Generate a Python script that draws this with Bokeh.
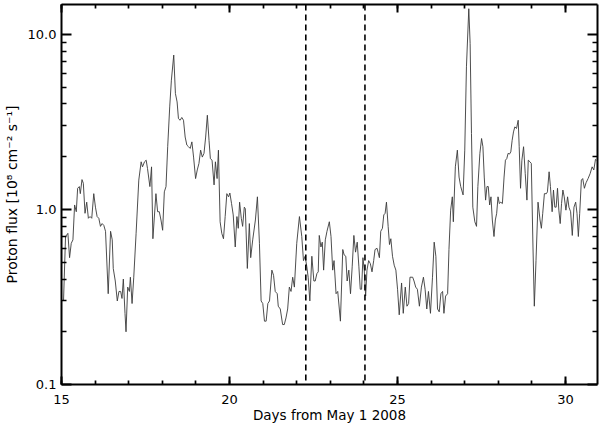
from bokeh.plotting import figure
from bokeh.models import (Range1d, LogAxis, LinearAxis, FixedTicker,
                          PrintfTickFormatter, Span, ColumnDataSource)
from bokeh.embed import file_html
from bokeh.resources import INLINE

# ---- data ----
days = [
    15.06, 15.12, 15.19, 15.24, 15.29, 15.34, 15.39, 15.44, 15.48, 15.53, 15.56, 15.61, 15.65,
    15.70, 15.75, 15.80, 15.85, 15.90, 15.96, 16.01, 16.06, 16.11, 16.16, 16.21, 16.26, 16.31,
    16.39, 16.46, 16.51, 16.54, 16.60, 16.66, 16.71, 16.76, 16.80, 16.84, 16.89, 16.92, 16.97,
    17.02, 17.05, 17.10, 17.15, 17.22, 17.30, 17.37, 17.41, 17.47, 17.52, 17.56, 17.63, 17.68,
    17.72, 17.81, 17.86, 17.91, 17.96, 18.01, 18.06, 18.11, 18.16,
    18.22, 18.27, 18.34, 18.39, 18.44, 18.48, 18.53, 18.58, 18.63, 18.68, 18.73, 18.78, 18.83,
    18.88, 18.93, 18.99, 19.04, 19.09, 19.14, 19.19, 19.24, 19.29, 19.34, 19.39, 19.43, 19.48,
    19.54, 19.58, 19.63, 19.67, 19.72, 19.77, 19.82, 19.87, 19.92, 19.97,
    20.01, 20.06, 20.11, 20.17, 20.22, 20.26, 20.30, 20.35, 20.39, 20.44, 20.47, 20.53, 20.59,
    20.63, 20.69, 20.77, 20.83, 20.89, 20.94, 20.99, 21.04, 21.09, 21.14, 21.19, 21.26, 21.31,
    21.36, 21.42, 21.45, 21.51, 21.58, 21.63, 21.68, 21.73, 21.78, 21.83, 21.88, 21.93,
    22.00, 22.08, 22.15, 22.20, 22.25, 22.30, 22.34, 22.39, 22.45, 22.51, 22.55, 22.60, 22.64,
    22.67, 22.72, 22.76, 22.80, 22.85, 22.90, 22.97, 23.02, 23.07, 23.11, 23.17, 23.22, 23.30,
    23.37, 23.41, 23.46, 23.50, 23.55, 23.60, 23.65, 23.70, 23.75, 23.80, 23.85, 23.89, 23.93,
    23.97,
    24.01, 24.05, 24.09, 24.14, 24.19, 24.24, 24.29, 24.33, 24.39, 24.42, 24.46, 24.50, 24.55,
    24.59, 24.63, 24.67, 24.72, 24.76, 24.80, 24.85, 24.90, 24.95, 25.00, 25.05, 25.12, 25.17,
    25.23, 25.28, 25.33, 25.37, 25.45, 25.49, 25.54, 25.59, 25.65, 25.71, 25.77, 25.82, 25.87,
    25.92, 25.98,
    26.04, 26.09, 26.14, 26.19, 26.24, 26.29, 26.34, 26.38, 26.43, 26.49, 26.53, 26.58, 26.63,
    26.66, 26.72, 26.78, 26.83, 26.88, 26.95, 27.00, 27.05, 27.12, 27.16, 27.20, 27.24, 27.30,
    27.35, 27.39, 27.45, 27.50, 27.54, 27.58, 27.62, 27.66, 27.70, 27.74, 27.78, 27.82, 27.87,
    27.91, 27.95, 27.99,
    28.03, 28.07, 28.12, 28.17, 28.21, 28.25, 28.29, 28.33, 28.37, 28.41, 28.45, 28.49, 28.54,
    28.59, 28.62, 28.66, 28.70, 28.75, 28.80, 28.85, 28.89, 28.94, 28.98, 29.03, 29.07, 29.12,
    29.18, 29.24, 29.28, 29.32, 29.37, 29.43, 29.46, 29.51, 29.55, 29.60, 29.64, 29.68, 29.72,
    29.76, 29.80, 29.84, 29.88, 29.92, 29.96,
    30.01, 30.06, 30.10, 30.15, 30.20, 30.25, 30.30, 30.34, 30.38, 30.42, 30.47, 30.51, 30.56,
    30.61, 30.67, 30.73, 30.79, 30.84, 30.89, 30.92,
]

flux = [
    0.30, 0.70, 0.73, 0.53, 0.64, 0.67, 1.06, 0.97, 1.32, 1.35, 1.23, 1.48, 1.41,
    0.95, 1.10, 0.89, 0.91, 0.89, 1.23, 1.03, 0.91, 0.89, 0.80, 0.83, 0.81, 0.75,
    0.33, 0.75, 0.67, 0.46, 0.39, 0.30, 0.34, 0.34, 0.31, 0.40, 0.255, 0.20, 0.36,
    0.34, 0.41, 0.29, 0.41, 0.73, 1.47, 1.87, 1.75, 1.87, 1.91, 1.71, 1.35, 1.75,
    0.68, 1.23, 0.97, 0.97, 0.87, 0.76, 1.26, 1.35, 2.28,
    3.85, 5.47, 7.61, 4.59, 4.11, 3.30, 3.23, 3.35, 3.23, 2.59, 2.33, 2.28, 2.23,
    2.43, 1.99, 1.50, 1.68, 1.83, 2.18, 1.99, 2.09, 2.59, 3.45, 2.48, 1.95, 1.91,
    1.38, 1.87, 1.50, 2.18, 0.85, 0.73, 0.68, 0.91, 1.23, 1.18,
    1.24, 1.08, 0.93, 0.61, 0.91, 0.78, 1.10, 0.89, 0.80, 1.03, 1.01, 0.46, 0.83,
    0.53, 0.67, 0.87, 1.18, 0.64, 0.30, 0.29, 0.23, 0.23, 0.29, 0.30, 0.45, 0.42,
    0.34, 0.33, 0.28, 0.27, 0.22, 0.22, 0.24, 0.27, 0.36, 0.34, 0.41, 0.36,
    0.64, 0.91, 0.70, 0.51, 0.54, 0.47, 0.41, 0.30, 0.54, 0.39, 0.39, 0.43, 0.44,
    0.71, 0.61, 0.65, 0.45, 0.67, 0.75, 0.85, 0.70, 0.45, 0.51, 0.33, 0.34, 0.23,
    0.59, 0.55, 0.54, 0.39, 0.45, 0.33, 0.47, 0.71, 0.57, 0.65, 0.47, 0.35, 0.35,
    0.53,
    0.45, 0.32, 0.45, 0.51, 0.49, 0.44, 0.51, 0.59, 0.60, 0.57, 0.53, 0.75, 0.78,
    0.93, 0.95, 1.10, 0.80, 0.63, 0.68, 0.54, 0.48, 0.45, 0.35, 0.25, 0.38, 0.255,
    0.36, 0.28, 0.29, 0.41, 0.41, 0.39, 0.36, 0.35, 0.28, 0.36, 0.41, 0.35, 0.27,
    0.34, 0.255,
    0.41, 0.65, 0.54, 0.27, 0.26, 0.33, 0.34, 0.255, 0.32, 0.33, 0.59, 0.99, 1.18,
    0.85, 1.75, 2.18, 1.53, 1.35, 1.21, 2.18, 6.52, 14.0, 8.86, 2.71, 1.03, 0.85,
    0.80, 1.35, 2.09, 2.54, 2.28, 1.53, 1.13, 1.35, 1.35, 1.06, 1.18, 0.87, 0.70,
    0.87, 0.95, 1.18,
    1.08, 1.10, 1.08, 1.53, 1.91, 1.95, 2.09, 2.07, 2.13, 2.48, 2.77, 2.96, 2.90,
    3.23, 2.28, 1.32, 1.91, 2.28, 1.60, 1.13, 1.91, 1.87, 1.83, 0.61, 0.28, 0.51,
    1.10, 0.87, 0.78, 0.95, 1.23, 1.23, 1.26, 1.64, 1.35, 0.97, 1.29, 1.03, 1.03,
    1.32, 0.99, 0.83, 1.08, 1.29, 1.18,
    0.99, 1.18, 1.03, 0.97, 0.71, 1.03, 1.10, 0.95, 0.70, 0.95, 1.47, 1.50, 1.32,
    1.42, 1.50, 1.60, 1.75, 1.68, 1.93, 1.91,
]

event_days = [22.27, 24.03]

x_major_ticks = [15, 20, 25, 30]
x_minor_ticks = list(range(15, 32))
y_major_ticks = [0.1, 1.0, 10.0]
y_minor_ticks = [0.2, 0.3, 0.4, 0.5, 0.6, 0.7, 0.8, 0.9,
                 2, 3, 4, 5, 6, 7, 8, 9]

x_label = "Days from May 1 2008"
y_label = "Proton flux [10\u2078 cm\u207b\u00b2 s\u207b\u00b9]"

FONT = "DejaVu Sans"

p = figure(width=600, height=426,
           x_range=Range1d(15, 30.95), y_range=Range1d(0.1, 14.8),
           y_axis_type="log", output_backend="svg", toolbar_location=None,
           min_border_left=60, min_border_right=3, min_border_top=4,
           min_border_bottom=42)
p.xgrid.visible = False
p.ygrid.visible = False
p.outline_line_color = None
p.background_fill_color = "white"
p.border_fill_color = "white"

bottom = p.xaxis[0]
left = p.yaxis[0]

src = ColumnDataSource(data=dict(x=days, y=flux))
p.line("x", "y", source=src, line_color="#3a3a3a", line_width=0.9)

for d in event_days:
    p.add_layout(Span(location=d, dimension="height", line_color="black",
                      line_width=1.6, line_dash="6 4"))

top = LinearAxis()
right = LogAxis()
p.add_layout(top, "above")
p.add_layout(right, "right")

for ax in [bottom, top]:
    ax.ticker = FixedTicker(ticks=x_major_ticks, minor_ticks=x_minor_ticks)
    ax.major_tick_in = 8
    ax.major_tick_out = 0
    ax.minor_tick_in = 4
    ax.minor_tick_out = 0

for ax in [left, right]:
    ax.ticker = FixedTicker(ticks=y_major_ticks, minor_ticks=y_minor_ticks)
    ax.formatter = PrintfTickFormatter(format="%.1f")
    ax.major_tick_in = 10
    ax.major_tick_out = 0
    ax.minor_tick_in = 5
    ax.minor_tick_out = 0

for ax in [bottom, top, left, right]:
    ax.axis_line_width = 2
    ax.axis_line_color = "black"
    ax.major_tick_line_width = 2
    ax.minor_tick_line_width = 1.7
    ax.major_tick_line_color = "black"
    ax.minor_tick_line_color = "black"
    ax.major_label_text_font = FONT
    ax.major_label_text_font_size = "13px"
    ax.major_label_text_color = "black"
    ax.axis_label_text_font = FONT
    ax.axis_label_text_font_style = "normal"
    ax.axis_label_text_color = "black"

# mirrored axes: ticks only, no labels drawn
for ax in [top, right]:
    ax.major_label_text_color = None
    ax.major_label_text_font_size = "1px"
    ax.major_label_standoff = 0
    ax.axis_label = None

bottom.axis_label = x_label
bottom.axis_label_text_font_size = "13.5px"
bottom.major_label_standoff = 10
bottom.axis_label_standoff = 0
left.axis_label = y_label
left.axis_label_text_font_size = "14px"
left.major_label_standoff = 5
left.axis_label_standoff = 5

open("out.html", "w").write(file_html(p, INLINE))
